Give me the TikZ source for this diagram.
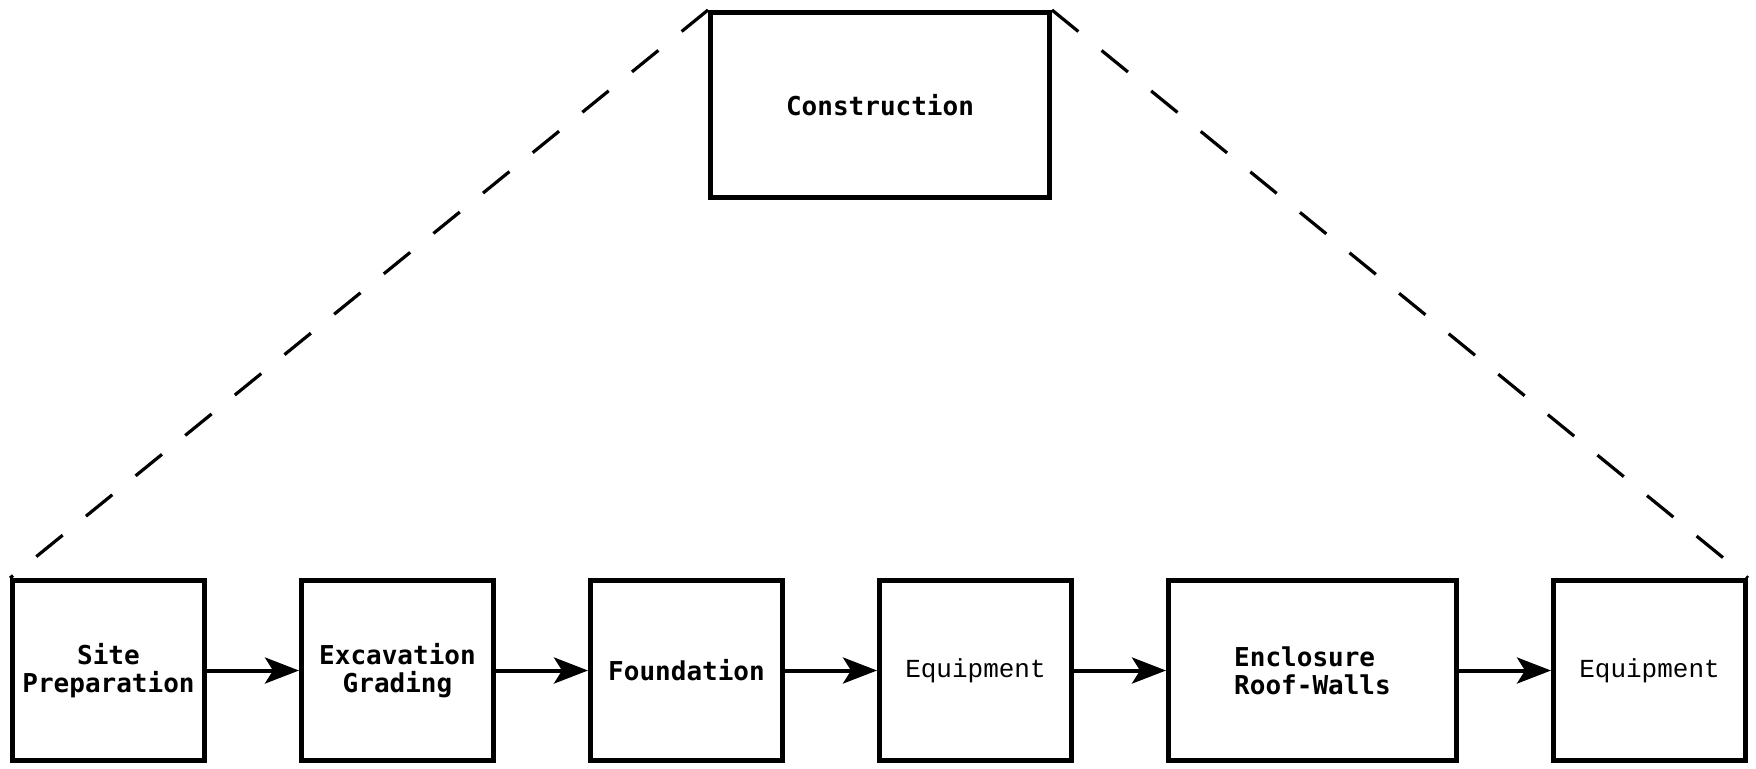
\documentclass[tikz,border=0pt]{standalone}
\usepackage{fontspec}
\setmonofont{DejaVu Sans Mono}
\newfontfamily\courierfont{Liberation Mono}
\usepackage{tikz}
\usetikzlibrary{positioning,arrows.meta}

\begin{document}
\begin{tikzpicture}[
  node distance=46pt,
  box/.style={draw, line width=2.5pt, align=center, inner sep=3pt,
    minimum width=96pt, minimum height=90pt,
    font=\ttfamily\bfseries\fontsize{13pt}{14pt}\selectfont},
  wbox/.style={box, minimum width=144pt},
  topbox/.style={box, minimum width=169.5pt, minimum height=92.5pt},
  cour/.style={font=\courierfont\fontsize{13pt}{14pt}\selectfont},
  dashline/.style={line width=1.6pt, dash pattern=on 17pt off 15pt},
  ar/.style={line width=2pt, -{Stealth[length=17pt, width=13pt, inset=4pt]}}]

  \useasboundingbox (0,0) rectangle (878pt,-384pt);

  \node[topbox, anchor=north west] (constr) at (354pt,-5pt) {Construction};

  \node[box, anchor=north west] (site) at (5pt,-289pt) {Site\\Preparation};
  \node[box, right=of site] (excav) {Excavation\\Grading};
  \node[box, right=of excav] (found) {Foundation};
  \node[box, cour, right=of found] (equipa) {Equipment};
  \node[wbox, align=left, right=of equipa] (encl) {Enclosure\\Roof-Walls};
  \node[box, cour, right=of encl] (equipb) {Equipment};

  \draw[ar] (site) -- (excav);
  \draw[ar] (excav) -- (found);
  \draw[ar] (found) -- (equipa);
  \draw[ar] (equipa) -- (encl);
  \draw[ar] (encl) -- (equipb);

  \draw[dashline] (constr.north west) -- (site.north west);
  \draw[dashline] (constr.north east) -- (equipb.north east);
\end{tikzpicture}
\end{document}
